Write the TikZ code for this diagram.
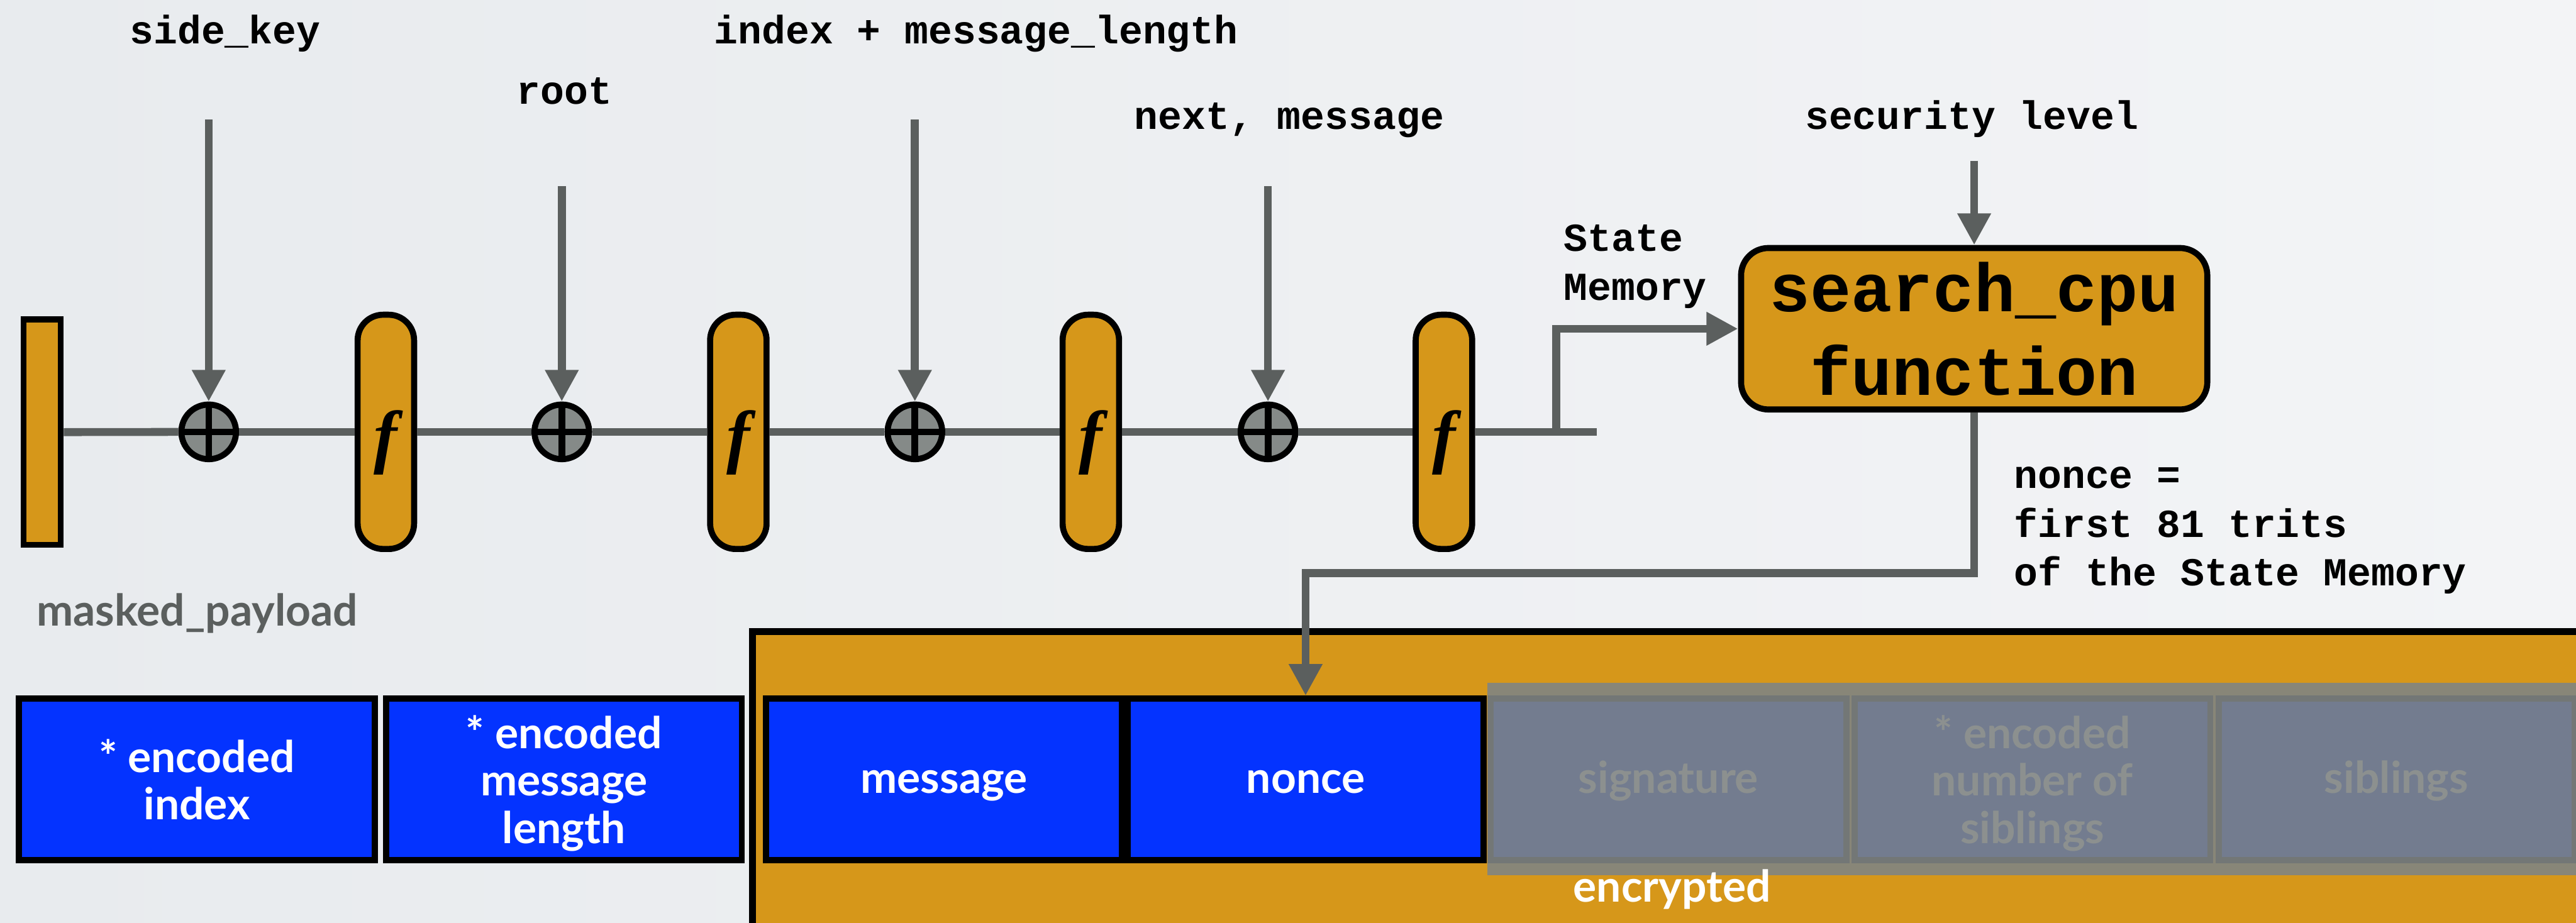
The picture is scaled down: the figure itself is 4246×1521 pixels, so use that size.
\documentclass[tikz,border=0pt]{standalone}
\usepackage{fontspec}
\usetikzlibrary{arrows.meta,calc}
\newfontfamily\monof{Liberation Mono}
\newfontfamily\latof{Lato}
\newfontfamily\seriff{Liberation Serif}
\definecolor{bgL}{RGB}{232,235,238}
\definecolor{bgR}{RGB}{243,244,246}
\definecolor{orng}{RGB}{214,151,26}
\definecolor{blu}{RGB}{4,51,255}
\definecolor{lgray}{RGB}{91,95,94}
\definecolor{cgray}{RGB}{133,138,136}
\definecolor{ovl}{RGB}{128,133,131}
\begin{document}
\begin{tikzpicture}[x=0.01cm,y=-0.01cm,
  conn/.style={draw=lgray,line width=0.13cm},
  arr/.style={conn,-{Triangle[length=0.52cm,width=0.52cm]}},
  fbox/.style={draw=black,fill=orng,line width=0.1cm,rounded corners=0.42cm,
    minimum width=0.93cm,minimum height=3.86cm,inner sep=0pt,
    font=\seriff\bfseries\itshape\fontsize{33}{33}\selectfont,
    text height=26.2pt,text depth=0pt},
  xorc/.style={circle,draw=black,fill=cgray,line width=0.1cm,minimum size=0.9cm,inner sep=0pt,
    path picture={\draw[black,line width=0.11cm]
      (path picture bounding box.north)--(path picture bounding box.south)
      (path picture bounding box.west)--(path picture bounding box.east);}},
  lbl/.style={font=\monof\bfseries\fontsize{18.6}{22.9}\selectfont,inner sep=0pt},
  cell/.style={draw=black,fill=blu,line width=0.1cm,minimum width=5.86cm,minimum height=2.66cm,
    inner sep=0pt,align=center,text=white,font=\latof\bfseries\fontsize{20.5}{22.2}\selectfont},
  one/.style={text height=13.1pt,text depth=0pt},
  sans/.style={font=\latof\bfseries\fontsize{20.5}{24}\selectfont,inner sep=0pt},
]
\useasboundingbox (0,0) rectangle (4246,1521);
\clip (0,0) rectangle (4246,1521);
\shade[left color=bgL,right color=bgR] (0,0) rectangle (4246,1521);

% bottom area
\draw[fill=orng,line width=0.11cm] (1240.5,1041.5) rectangle (4400,1700);
\node[cell] (cidx) at (324.5,1285) {* encoded\\index};
\node[cell,text depth=0pt] (clen) at (929.5,1285) {* encoded\\message\\length};
\node[cell,one] (msg) at (1556,1285) {message};
\node[cell,one] (nonce) at (2152,1285) {nonce};
\node[cell,one] (sig) at (2750,1285) {signature};
\node[cell,text depth=0pt] (nsib) at (3350,1285) {* encoded\\number of\\siblings};
\node[cell,one] (sib) at (3950,1285) {siblings};
\fill[ovl,opacity=0.9] (2452,1126) rectangle (4400,1443);
\node[sans,text=white,anchor=base] (enc) at (2756,1487) {encrypted};
\node[sans,text=lgray,anchor=base] (mp) at (325,1032) {masked\_payload};

% top chain
\node[draw=black,fill=orng,line width=0.1cm,minimum width=0.61cm,minimum height=3.71cm,inner sep=0pt] (bar) at (69.5,712.5) {};
\node[xorc] (x1) at (344,712) {};
\node[fbox] (f1) at (636,712) {f};
\node[xorc] (x2) at (926,712) {};
\node[fbox] (f2) at (1217,712) {f};
\node[xorc] (x3) at (1508,712) {};
\node[fbox] (f3) at (1798,712) {f};
\node[xorc] (x4) at (2090,712) {};
\node[fbox] (f4) at (2380,712) {f};
\coordinate (lend) at (2632,712);
\coordinate (br) at (2565,712);

\node[draw=black,fill=orng,line width=0.1cm,rounded corners=0.45cm,minimum width=7.68cm,minimum height=2.66cm,
  inner sep=0pt,align=center,font=\monof\bfseries\fontsize{32}{39.3}\selectfont] (cpu) at (3254,542) {search\_cpu\\function};

\draw[conn] (bar) -- (x1);
\draw[conn] (x1) -- (f1);
\draw[conn] (f1) -- (x2);
\draw[conn] (x2) -- (f2);
\draw[conn] (f2) -- (x3);
\draw[conn] (x3) -- (f3);
\draw[conn] (f3) -- (x4);
\draw[conn] (x4) -- (f4);
\draw[conn] (f4) -- (lend);
\draw[arr] (br) |- (cpu.west);

% labels
\node[lbl,anchor=base] (lsk) at (371,72) {side\_key};
\node[lbl,anchor=base] (lroot) at (930,172) {root};
\node[lbl,anchor=base] (lidx) at (1609,72) {index + message\_length};
\node[lbl,anchor=base] (lnext) at (2125,213) {next, message};
\node[lbl,anchor=base] (lsec) at (3250,213) {security level};
\node[lbl,anchor=base west,align=left] (lsm) at (2577,495) {State\\Memory};
\node[lbl,anchor=base west,align=left] (lnon) at (3319,966) {nonce =\\first 81 trits\\of the State Memory};

\coordinate (a1) at (344,197);
\coordinate (a2) at (926,307);
\coordinate (a3) at (1508,197);
\coordinate (a4) at (2090,307);
\coordinate (a5) at (3254,265);
\draw[arr] (a1) -- (x1.north);
\draw[arr] (a2) -- (x2.north);
\draw[arr] (a3) -- (x3.north);
\draw[arr] (a4) -- (x4.north);
\draw[arr] (a5) -- (cpu.north);

\coordinate (turn) at (3254,945);
\draw[arr] (cpu.south) -- (turn) -| (nonce.north);
\end{tikzpicture}
\end{document}
